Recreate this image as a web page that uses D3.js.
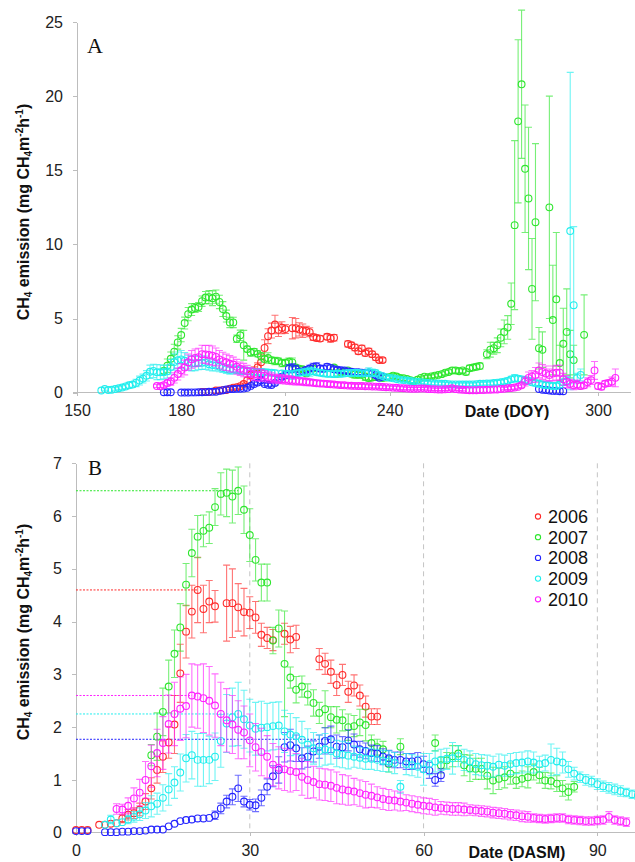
<!DOCTYPE html>
<html lang="en">
<head>
  <meta charset="UTF-8">
  <title>CH4 emission</title>
  <style>
    body { margin: 0; background: #fff; }
    svg { display: block; font-family: Arial, "Liberation Sans", sans-serif; }
    .axis path, .axis line { stroke: #bdbdbd; shape-rendering: crispEdges; }
    .axis text { font-size: 16px; fill: #222; }
  </style>
</head>
<body>
<div class="chart"></div>
<script src="https://d3js.org/d3.v7.min.js"></script>
<script>
  // years, colours and the DOY of day 0 (DASM) for every season
  const years = ['2006', '2007', '2008', '2009', '2010']
  const colors = ['#ff2a2a', '#2ee62e', '#2424ff', '#22eeee', '#ff22ff']
  const doyStart = [186, 162, 175, 152, 166]

  // season data in DASM: [day, mean, error]  (panel B, and panel A shifted by doyStart)
  const dasm2006 = [[0,0.05,0.03],[1,0.05,0.03],[2,0.05,0.03],[4,0.15,0.05],[5,0.15,0.05],[6,0.17,0.05],[7,0.18,0.06],[8,0.27,0.08],[9,0.34,0.1],[10,0.37,0.1],[11,0.44,0.12],[12,0.59,0.15],[13,0.84,0.2],[14,1.19,0.25],[15,1.44,0.3],[16,1.71,0.3],[17,2.05,0.55],[18,3.02,0.55],[19,3.81,0.5],[20,4.19,0.5],[21,4.6,0.62],[22,4.24,0.45],[23,4.38,0.4],[24,4.29,0.3],[26,4.35,0.72],[27,4.35,0.65],[28,4.27,0.45],[29,4.18,0.45],[30,4.17,0.3],[31,4.08,0.3],[32,3.75,0.22],[33,3.69,0.2],[34,3.65,0.2],[36,3.77,0.2],[37,3.66,0.25],[38,3.71,0.22],[42,3.29,0.2],[43,3.2,0.2],[44,3.05,0.22],[45,2.8,0.2],[46,2.99,0.2],[47,2.67,0.2],[48,2.79,0.2],[49,2.6,0.2],[50,2.39,0.2],[51,2.2,0.15],[52,2.2,0.15]]
  const dasm2007 = [[13,1.47,0.2],[14,1.82,0.45],[15,2.29,0.45],[16,2.77,0.5],[17,3.39,0.45],[18,3.89,0.45],[19,4.7,0.4],[20,5.3,0.45],[21,5.61,0.4],[22,5.72,0.3],[23,5.78,0.3],[24,6.17,0.35],[25,6.42,0.4],[26,6.44,0.45],[27,6.37,0.5],[28,6.48,0.45],[29,6.12,0.45],[30,5.64,0.5],[31,5.17,0.4],[32,4.74,0.35],[33,4.74,0.35],[34,3.64,0.25],[35,3.87,0.35],[36,3.2,1.0],[37,2.94,0.2],[38,2.71,0.25],[39,2.77,0.2],[40,2.62,0.2],[41,2.46,0.25],[42,2.27,0.2],[43,2.34,0.35],[44,2.19,0.2],[45,2.14,0.25],[46,2.13,0.2],[47,2.0,0.25],[48,2.02,0.2],[49,2.09,0.25],[50,2.04,0.3],[51,1.7,0.15],[52,1.62,0.15],[53,1.58,0.15],[54,1.3,0.15],[56,1.63,0.15],[62,1.7,0.15],[63,1.28,0.15],[64,1.37,0.15],[65,1.45,0.2],[66,1.5,0.15],[67,1.28,0.2],[68,1.22,0.25],[69,1.21,0.2],[70,1.21,0.2],[71,1.08,0.25],[72,0.99,0.25],[73,1.02,0.2],[74,1.05,0.2],[75,1.12,0.2],[76,0.99,0.15],[77,1.02,0.15],[78,1.05,0.2],[79,1.15,0.15],[80,1.09,0.15],[81,0.99,0.15],[82,0.98,0.15],[83,0.93,0.15],[84,0.84,0.15],[85,0.77,0.15],[86,0.87,0.1]]
  const dasm2008 = [[0,0.03,0.02],[1,0.03,0.02],[2,0.03,0.02],[5,0.01,0.02],[6,0.01,0.02],[7,0.01,0.02],[8,0.02,0.02],[9,0.02,0.02],[10,0.03,0.02],[11,0.03,0.02],[12,0.04,0.03],[13,0.06,0.03],[14,0.06,0.03],[15,0.06,0.03],[16,0.12,0.04],[17,0.17,0.05],[18,0.22,0.05],[19,0.24,0.05],[20,0.25,0.05],[21,0.27,0.05],[22,0.27,0.05],[23,0.28,0.06],[24,0.33,0.08],[25,0.46,0.1],[26,0.59,0.12],[27,0.68,0.15],[28,0.84,0.25],[29,0.59,0.1],[30,0.53,0.1],[31,0.52,0.12],[32,0.66,0.15],[33,0.87,0.15],[34,1.07,0.2],[35,1.19,0.25],[36,1.62,0.28],[37,1.66,0.3],[38,1.6,0.25],[39,1.41,0.2],[40,1.44,0.2],[41,1.54,0.2],[42,1.63,0.22],[43,1.74,0.25],[44,1.77,0.25],[45,1.63,0.22],[46,1.62,0.2],[47,1.75,0.2],[48,1.67,0.2],[49,1.58,0.15],[50,1.55,0.15],[51,1.51,0.15],[52,1.5,0.15],[53,1.44,0.15],[54,1.41,0.15],[55,1.38,0.15],[56,1.38,0.15],[57,1.35,0.15],[58,1.35,0.15],[59,1.37,0.15],[60,1.3,0.15],[61,1.18,0.15],[62,1.0,0.12],[63,1.09,0.12]]
  const dasm2009 = [[5,0.15,0.05],[6,0.25,0.08],[7,0.18,0.06],[8,0.2,0.06],[9,0.25,0.08],[10,0.3,0.1],[11,0.35,0.12],[12,0.42,0.15],[13,0.5,0.2],[14,0.55,0.2],[15,0.66,0.25],[16,0.82,0.3],[17,0.95,0.3],[18,1.14,0.35],[19,1.41,0.45],[20,1.47,0.45],[21,1.38,0.5],[22,1.38,0.5],[23,1.38,0.45],[24,1.44,0.45],[25,1.74,0.5],[26,2.07,0.55],[27,2.19,0.55],[28,2.25,0.6],[29,2.15,0.55],[30,2.03,0.5],[31,1.97,0.5],[32,1.99,0.5],[33,2.0,0.45],[34,2.02,0.45],[35,2.03,0.45],[36,1.92,0.4],[37,1.86,0.4],[38,1.83,0.35],[39,1.76,0.35],[40,1.67,0.3],[41,1.6,0.3],[42,1.55,0.3],[43,1.58,0.3],[44,1.55,0.25],[45,1.5,0.25],[46,1.48,0.25],[47,1.46,0.25],[48,1.44,0.2],[49,1.42,0.2],[50,1.4,0.2],[51,1.4,0.2],[52,1.38,0.2],[53,1.36,0.2],[54,1.35,0.2],[55,1.32,0.2],[56,0.87,0.12],[57,1.3,0.2],[58,1.28,0.2],[59,1.25,0.2],[60,1.2,0.3],[61,1.3,0.2],[62,1.35,0.2],[63,1.38,0.2],[64,1.4,0.2],[65,1.41,0.3],[66,1.45,0.2],[67,1.38,0.2],[68,1.35,0.2],[69,1.3,0.2],[70,1.28,0.2],[71,1.27,0.2],[72,1.25,0.2],[73,1.29,0.2],[74,1.27,0.2],[75,1.3,0.2],[76,1.32,0.2],[77,1.33,0.2],[78,1.35,0.2],[79,1.33,0.2],[80,1.3,0.15],[81,1.32,0.15],[82,1.38,0.3],[83,1.35,0.25],[84,1.33,0.2],[85,1.2,0.15],[86,1.12,0.12],[87,1.05,0.1],[88,1.0,0.1],[89,0.97,0.1],[90,0.92,0.1],[91,0.88,0.1],[92,0.85,0.1],[93,0.82,0.1],[94,0.79,0.1],[95,0.76,0.08],[96,0.73,0.08],[97,0.71,0.08]]
  const dasm2010 = [[7,0.45,0.1],[8,0.44,0.1],[9,0.51,0.15],[10,0.65,0.2],[11,0.76,0.25],[12,1.0,0.35],[13,1.26,0.4],[14,1.51,0.45],[15,1.7,0.5],[16,2.06,0.55],[17,2.25,0.6],[18,2.35,0.6],[19,2.4,0.6],[20,2.6,0.6],[21,2.58,0.6],[22,2.55,0.65],[23,2.5,0.65],[24,2.41,0.6],[25,2.25,0.6],[26,2.13,0.6],[27,2.05,0.55],[28,1.95,0.55],[29,1.9,0.5],[30,1.75,0.5],[31,1.62,0.45],[32,1.53,0.45],[33,1.44,0.4],[34,1.29,0.4],[35,1.23,0.4],[36,1.2,0.4],[37,1.17,0.4],[38,1.15,0.35],[39,1.06,0.35],[40,1.0,0.35],[41,0.96,0.3],[42,0.92,0.3],[43,0.91,0.3],[44,0.89,0.3],[45,0.85,0.3],[46,0.82,0.28],[47,0.8,0.28],[48,0.78,0.25],[49,0.75,0.25],[50,0.72,0.25],[51,0.7,0.22],[52,0.67,0.2],[53,0.64,0.2],[54,0.62,0.2],[55,0.61,0.18],[56,0.59,0.18],[57,0.57,0.15],[58,0.55,0.15],[59,0.53,0.15],[60,0.51,0.15],[61,0.5,0.15],[62,0.48,0.15],[63,0.47,0.12],[64,0.46,0.12],[65,0.45,0.12],[66,0.45,0.12],[67,0.44,0.12],[68,0.43,0.1],[69,0.42,0.1],[70,0.41,0.1],[71,0.4,0.1],[72,0.38,0.1],[73,0.37,0.1],[74,0.36,0.1],[75,0.34,0.1],[76,0.33,0.1],[77,0.31,0.1],[78,0.3,0.1],[79,0.28,0.08],[80,0.27,0.08],[81,0.26,0.08],[82,0.27,0.08],[83,0.28,0.08],[84,0.28,0.08],[85,0.25,0.08],[86,0.24,0.08],[87,0.23,0.08],[88,0.22,0.08],[89,0.22,0.08],[90,0.23,0.08],[91,0.24,0.08],[92,0.3,0.1],[93,0.24,0.08],[94,0.22,0.08],[95,0.2,0.08]]

  // after the season, only in panel A: [DOY, mean, error]
  const post2007 = [[249,1.0,0.1],[250,1.08,0.1],[251,1.05,0.1],[252,1.1,0.1],[253,1.15,0.12],[254,1.2,0.12],[255,1.25,0.15],[256,1.35,0.15],[257,1.4,0.15],[258,1.5,0.2],[259,1.5,0.2],[260,1.45,0.15],[261,1.5,0.15],[262,1.4,0.2],[263,1.65,0.2],[264,1.7,0.2],[265,1.75,0.2],[266,1.8,0.2],[268,2.6,0.3],[269,2.9,0.5],[270,3.0,0.4],[271,3.2,0.5],[272,3.7,0.6],[273,4.1,0.8],[274,4.4,0.8],[275,6.0,1.4],[276,11.3,5.7],[277,18.3,5.5],[278,20.8,5.0],[279,15.1,4.3],[280,13.1,4.8],[281,7.0,3.4],[282,11.5,5.3],[283,3.0,1.4],[284,2.9,1.2],[286,12.5,7.5],[287,4.9,3.7],[288,6.3,4.5],[289,2.0,1.2],[290,3.3,2.4],[291,4.1,2.9],[292,2.6,1.6],[293,2.2,1.0],[296,3.9,2.7]]
  const post2008 = [[283,0.25,0.05],[284,0.2,0.05],[285,0.18,0.05],[286,0.15,0.05],[287,0.12,0.05],[288,0.12,0.05],[289,0.1,0.05],[290,0.1,0.05]]
  const post2009 = [[250,0.68,0.1],[251,0.66,0.1],[252,0.64,0.1],[253,0.62,0.1],[254,0.62,0.1],[255,0.6,0.1],[256,0.6,0.1],[257,0.58,0.1],[258,0.56,0.1],[259,0.56,0.1],[260,0.55,0.1],[261,0.55,0.1],[262,0.55,0.1],[263,0.55,0.1],[264,0.56,0.1],[265,0.58,0.1],[266,0.6,0.1],[267,0.6,0.1],[268,0.62,0.1],[269,0.62,0.1],[270,0.65,0.15],[271,0.68,0.15],[272,0.7,0.15],[273,0.75,0.15],[274,0.8,0.2],[275,0.9,0.2],[276,0.97,0.25],[277,0.95,0.2],[278,0.9,0.2],[279,0.85,0.2],[280,0.8,0.2],[281,0.7,0.2],[282,0.65,0.2],[283,0.6,0.2],[284,0.55,0.2],[285,0.5,0.2],[286,0.5,0.2],[287,0.45,0.2],[288,0.45,0.2],[289,0.55,0.2],[290,0.7,0.2],[291,0.8,0.3],[292,10.9,10.7],[293,5.9,5.3],[294,1.0,0.3],[295,1.2,0.4]]
  const post2010 = [[262,0.18,0.05],[263,0.17,0.05],[264,0.17,0.05],[265,0.17,0.05],[266,0.18,0.05],[267,0.18,0.05],[268,0.2,0.05],[269,0.2,0.05],[270,0.22,0.05],[271,0.22,0.05],[272,0.25,0.05],[273,0.27,0.08],[274,0.3,0.1],[275,0.32,0.1],[276,0.35,0.1],[277,0.4,0.1],[278,0.5,0.15],[279,0.75,0.3],[280,1.0,0.4],[281,1.1,0.4],[282,1.2,0.5],[283,1.5,0.5],[284,1.4,0.5],[285,1.3,0.5],[286,1.2,0.4],[287,1.3,0.5],[288,1.35,0.5],[289,1.35,0.5],[290,0.9,0.4],[291,0.75,0.4],[292,0.6,0.3],[293,0.5,0.3],[294,0.55,0.3],[295,0.45,0.2],[296,0.5,0.2],[297,0.7,0.3],[298,0.85,0.3],[299,1.5,0.6],[300,0.45,0.2],[301,0.4,0.2],[302,0.6,0.2],[303,0.65,0.2],[304,0.75,0.3],[305,1.0,0.6]]

  const dasmData = [dasm2006, dasm2007, dasm2008, dasm2009, dasm2010]
  const postData = [[], post2007, post2008, post2009, post2010]

  // axis ticks
  const ticksA_x = [150, 180, 210, 240, 300]
  const ticksA_y = [0, 5, 10, 15, 20, 25]
  const ticksB_x = [0, 30, 60, 90]
  const ticksB_y = [0, 1, 2, 3, 4, 5, 6, 7]
  const gridB = [30, 60, 90]

  let width = 635
  let height = 862
  let svg = d3.select('.chart').append('svg').attr('width', width).attr('height', height)

  // panel A: DOY
  let xA = d3.scaleLinear().domain([150, 309.5]).range([77, 631])
  let yA = d3.scaleLinear().domain([0, 25]).range([392.7, 22])
  // panel B: DASM
  let xB = d3.scaleLinear().domain([0, 96.5]).range([76, 635])
  let yB = d3.scaleLinear().domain([0, 7]).range([832.7, 463.3])

  drawAxes(xA, yA, ticksA_x, ticksA_y)
  drawAxes(xB, yB, ticksB_x, ticksB_y)

  // dashed verticals in B
  svg.append('g').selectAll('line').data(gridB).enter().append('line')
    .attr('x1', d => xB(d)).attr('x2', d => xB(d))
    .attr('y1', yB(7)).attr('y2', yB(0))
    .attr('stroke', '#c4c4c4').attr('stroke-dasharray', '5,4')

  // dotted line from the y axis to each year's peak in B
  dasmData.forEach((s, i) => {
    let peak = d3.greatest(s, d => d[1])
    svg.append('line')
      .attr('x1', xB(0)).attr('x2', xB(peak[0]))
      .attr('y1', yB(peak[1])).attr('y2', yB(peak[1]))
      .attr('stroke', colors[i]).attr('stroke-width', 1)
      .attr('stroke-dasharray', '2,1.5')
  })

  // series
  dasmData.forEach((s, i) => {
    let aPts = s.map(d => [d[0] + doyStart[i], d[1], d[2]]).concat(postData[i])
    drawSeries(aPts, xA, yA, colors[i])
    drawSeries(s, xB, yB, colors[i])
  })

  drawLabels()
  drawLegend()

  function drawAxes (x, y, tx, ty) {
    let gx = svg.append('g').attr('class', 'axis')
      .attr('transform', 'translate(0,' + y.range()[0] + ')')
    gx.call(d3.axisBottom(x).tickValues(tx).tickFormat(d3.format('d'))
      .tickSize(3).tickSizeOuter(0).tickPadding(9))
    let gy = svg.append('g').attr('class', 'axis')
      .attr('transform', 'translate(' + x.range()[0] + ',0)')
    gy.call(d3.axisLeft(y).tickValues(ty).tickFormat(d3.format('d'))
      .tickSize(4).tickSizeOuter(0).tickPadding(10))
    gx.select('.domain').attr('d', 'M' + (x.range()[0] - 4) + ',0H' + x.range()[1])
  }

  function drawSeries (pts, x, y, color) {
    let g = svg.append('g')
    let bars = g.append('g').attr('stroke', color).attr('stroke-opacity', 0.65).attr('stroke-width', 1.1)
    bars.selectAll('.eb').data(pts.filter(d => d[2] > 0.06)).enter().append('path')
      .attr('class', 'eb')
      .attr('fill', 'none')
      .attr('d', d => {
        let px = x(d[0])
        let top = y(d[1] + d[2])
        let bot = y(Math.max(0, d[1] - d[2]))
        return 'M' + px + ',' + top + 'V' + bot +
          'M' + (px - 3.5) + ',' + top + 'H' + (px + 3.5) +
          'M' + (px - 3.5) + ',' + bot + 'H' + (px + 3.5)
      })
    g.selectAll('circle').data(pts).enter().append('circle')
      .attr('cx', d => x(d[0]))
      .attr('cy', d => y(d[1]))
      .attr('r', 3.4)
      .attr('fill', 'none')
      .attr('stroke', color)
      .attr('stroke-width', 1.1)
  }

  function yTitle (cx, cy) {
    let t = svg.append('text')
      .attr('transform', 'translate(' + cx + ',' + cy + ') rotate(-90)')
      .attr('text-anchor', 'middle')
      .style('font-size', '16px').style('font-weight', 'bold').attr('fill', '#111')
    t.append('tspan').text('CH')
    t.append('tspan').text('4').style('font-size', '10px').attr('dy', 3)
    t.append('tspan').text(' emission (mg CH').attr('dy', -3)
    t.append('tspan').text('4').style('font-size', '10px').attr('dy', 3)
    t.append('tspan').text('m').attr('dy', -3)
    t.append('tspan').text('-2').style('font-size', '10px').attr('dy', -6)
    t.append('tspan').text('h').attr('dy', 6)
    t.append('tspan').text('-1').style('font-size', '10px').attr('dy', -6)
    t.append('tspan').text(')').attr('dy', 6)
  }

  function drawLabels () {
    yTitle(29, 212)
    yTitle(29, 632)
    svg.append('text').attr('x', 507).attr('y', 417).attr('text-anchor', 'middle')
      .style('font-size', '16px').style('font-weight', 'bold').attr('fill', '#111').text('Date (DOY)')
    svg.append('text').attr('x', 517).attr('y', 858).attr('text-anchor', 'middle')
      .style('font-size', '16px').style('font-weight', 'bold').attr('fill', '#111').text('Date (DASM)')
    svg.append('text').attr('x', 87).attr('y', 53)
      .style('font-family', '"Liberation Serif", "Times New Roman", serif').style('font-size', '22px')
      .attr('fill', '#111').text('A')
    svg.append('text').attr('x', 88).attr('y', 475)
      .style('font-family', '"Liberation Serif", "Times New Roman", serif').style('font-size', '21px')
      .attr('fill', '#111').text('B')
  }

  function drawLegend () {
    let lg = svg.append('g').attr('transform', 'translate(538,516.5)')
    let item = lg.selectAll('g').data(years).enter().append('g')
      .attr('transform', (d, i) => 'translate(0,' + i * 20.7 + ')')
    item.append('circle').attr('r', 2.6).attr('fill', 'none')
      .attr('stroke', (d, i) => colors[i]).attr('stroke-width', 1.1)
    item.append('text').attr('x', 10).attr('dy', '0.36em')
      .style('font-size', '18px').attr('fill', '#111').text(d => d)
  }
</script>
</body>
</html>
